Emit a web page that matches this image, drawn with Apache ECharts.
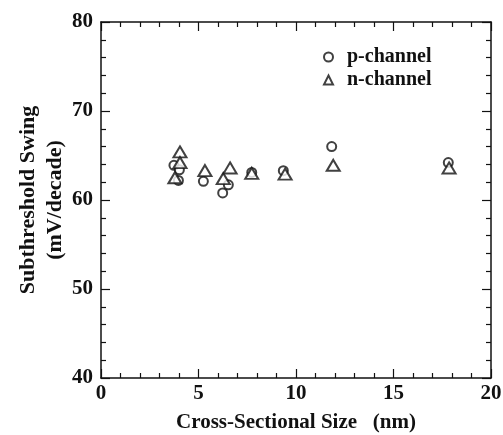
<!DOCTYPE html>
<html><head><meta charset="utf-8">
<script src="https://cdn.jsdelivr.net/npm/echarts@6/dist/echarts.min.js"></script>
<style>html,body{margin:0;padding:0;background:#fff}#c{width:503px;height:435px}</style>
</head><body><div id="c"></div>
<script>
const pX = [3.74, 3.97, 5.25, 6.24, 6.53, 7.73, 9.35, 11.83, 17.81, 4.02];
const pY = [63.9, 62.2, 62.1, 60.8, 61.7, 63.1, 63.3, 66.0, 64.2, 63.4];
const nX = [4.05, 4.05, 3.79, 5.33, 6.27, 6.62, 7.73, 9.44, 11.91, 17.85];
const nY = [65.4, 64.2, 62.5, 63.3, 62.4, 63.6, 63.0, 62.9, 63.9, 63.6];
const xTicks = [0, 5, 10, 15, 20];
const yTicks = [40, 50, 60, 70, 80];

const font = "'Liberation Serif','Times New Roman',serif";
const pData = pX.map((x, i) => [x, pY[i]]);
const nData = nX.map((x, i) => [x, nY[i]]);

const axisCommon = {
  axisLine: {show: true, onZero: false, lineStyle: {color: '#111', width: 1.5}},
  axisTick: {show: true, inside: true, length: 9, lineStyle: {color: '#111', width: 1.2}},
  minorTick: {show: true, splitNumber: 5, length: 5, lineStyle: {color: '#111', width: 1.2}},
  splitLine: {show: false},
  minorSplitLine: {show: false}
};

const chart = echarts.init(document.getElementById('c'), null, {renderer: 'canvas'});
chart.setOption({
  animation: false,
  backgroundColor: '#fff',
  grid: {left: 101, right: 12, top: 22, bottom: 57, containLabel: false, outerBoundsMode: 'none'},
  legend: {
    orient: 'vertical', left: 318, top: 42, itemGap: 3,
    itemWidth: 9, itemHeight: 9,
    textStyle: {fontFamily: font, fontWeight: 'bold', fontSize: 20, color: '#111', padding: [0, 0, 0, 9]},
    data: [{name: 'p-channel', icon: 'emptyCircle'}, {name: 'n-channel', icon: 'emptyTriangle'}]
  },
  xAxis: [
    Object.assign({
      type: 'value', min: xTicks[0], max: xTicks[xTicks.length - 1], interval: 5,
      name: 'Cross-Sectional Size   (nm)', nameLocation: 'middle', nameGap: 34, nameMoveOverlap: false,
      nameTextStyle: {fontFamily: font, fontWeight: 'bold', fontSize: 21, color: '#111'},
      axisLabel: {fontFamily: font, fontWeight: 'bold', fontSize: 21, color: '#111', margin: 5}
    }, axisCommon),
    Object.assign({
      type: 'value', position: 'top', min: 0, max: 20, interval: 5,
      axisLabel: {show: false}
    }, axisCommon)
  ],
  yAxis: [
    Object.assign({
      type: 'value', min: yTicks[0], max: yTicks[yTicks.length - 1], interval: 10,
      name: 'Subthreshold Swing\n(mV/decade)', nameLocation: 'middle', nameGap: 32, nameMoveOverlap: false,
      nameTextStyle: {fontFamily: font, fontWeight: 'bold', fontSize: 22, color: '#111', lineHeight: 27},
      axisLabel: {fontFamily: font, fontWeight: 'bold', fontSize: 21, color: '#111', margin: 8}
    }, axisCommon),
    Object.assign({
      type: 'value', position: 'right', min: 40, max: 80, interval: 10,
      axisLabel: {show: false}
    }, axisCommon)
  ],
  series: [
    {name: 'p-channel', type: 'scatter', symbol: 'emptyCircle', symbolSize: 9,
     itemStyle: {color: '#111', borderWidth: 1.4}, data: pData},
    {name: 'n-channel', type: 'scatter', symbol: 'emptyTriangle', symbolSize: [13, 11],
     itemStyle: {color: '#111', borderWidth: 1.4}, data: nData}
  ]
});
</script></body></html>
